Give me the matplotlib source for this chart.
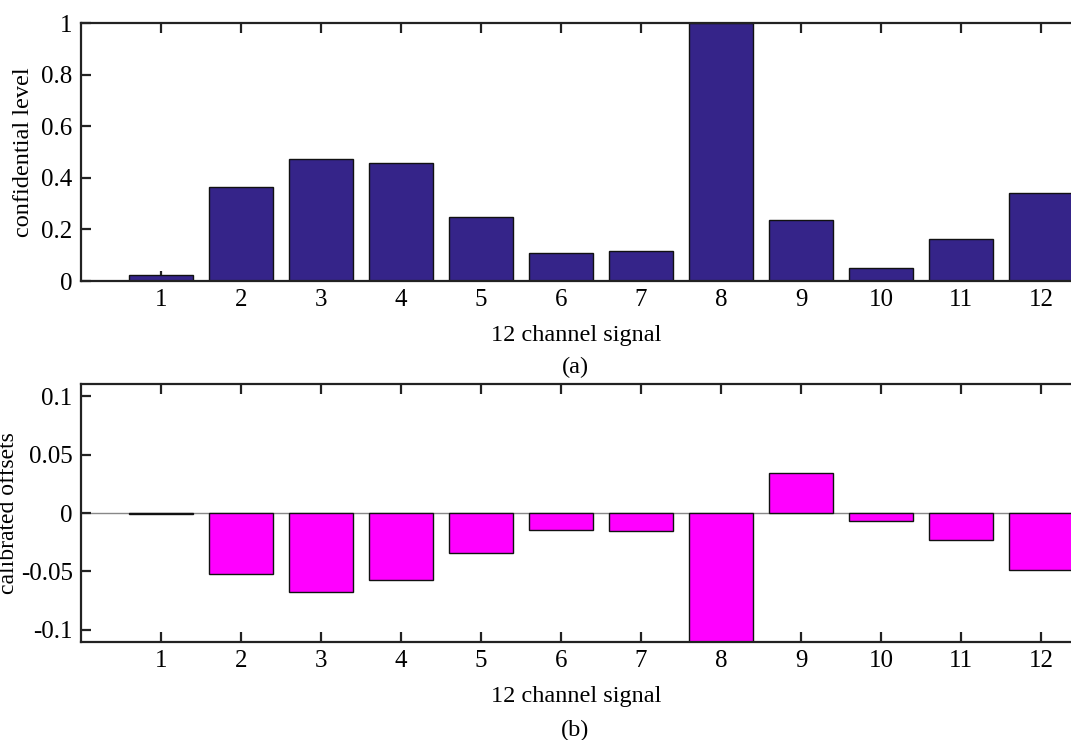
import matplotlib
matplotlib.use("Agg")
import matplotlib.pyplot as plt
import numpy as np

# 12 channel signal
channels = np.arange(1, 13)
confidence = [0.022, 0.363, 0.473, 0.457, 0.248, 0.108, 0.116, 1.0, 0.235, 0.052, 0.164, 0.340]
offsets = [-0.0006, -0.052, -0.0675, -0.057, -0.034, -0.0145, -0.0155, -0.25, 0.034, -0.0068, -0.023, -0.0487]

plt.rcParams['font.family'] = ['Liberation Serif', 'DejaVu Serif']
plt.rcParams['font.size'] = 17.5

fig = plt.figure(figsize=(10.71, 7.40), dpi=100)
W, H = 1071., 740.

def style(ax):
    for s in ['left', 'top', 'bottom']:
        ax.spines[s].set_linewidth(1.6)
        ax.spines[s].set_color('#222222')
    ax.spines['right'].set_visible(False)
    ax.tick_params(direction='in', length=7, width=1.6, color='#222222',
                   top=True, right=False, pad=6, labelsize=18)
    ax.set_xlim(0, 12.375)
    ax.set_xticks(channels)

# (a) confidential level
ax1 = fig.add_axes([81 / W, (H - 281) / H, 1 - 81 / W, 258 / H])
ax1.bar(channels, confidence, width=0.8, color='#352489', edgecolor='#111111',
        linewidth=1.0, zorder=2)
style(ax1)
ax1.set_ylim(0, 1)
ax1.set_yticks([0, 0.2, 0.4, 0.6, 0.8, 1])
ax1.set_yticklabels(['0', '0.2', '0.4', '0.6', '0.8', '1'])
ax1.set_ylabel('confidential level', fontsize=17.5, labelpad=5)
ax1.set_xlabel('12 channel signal', fontsize=17.5, labelpad=10)
fig.text(0.5 + 40 / W, (H - 367) / H, '(a)', ha='center', va='center', fontsize=17.5)

# (b) calibrated offsets
ax2 = fig.add_axes([81 / W, (H - 642) / H, 1 - 81 / W, 258 / H])
ax2.axhline(0, color='#888888', linewidth=1.0, zorder=1)
ax2.bar(channels, offsets, width=0.8, color='#ff00ff', edgecolor='#111111',
        linewidth=1.0, zorder=2)
style(ax2)
ax2.set_ylim(-0.1103, 0.1103)
ax2.set_yticks([-0.1, -0.05, 0, 0.05, 0.1])
ax2.set_yticklabels(['-0.1', '-0.05', '0', '0.05', '0.1'])
ax2.set_ylabel('calibrated offsets', fontsize=17)
ax2.yaxis.set_label_coords(-62 / (W - 81), 0.5)
ax2.set_xlabel('12 channel signal', fontsize=17.5, labelpad=10)
fig.text(0.5 + 40 / W, (H - 730) / H, '(b)', ha='center', va='center', fontsize=17.5)

fig.savefig('out.png', dpi=100)
